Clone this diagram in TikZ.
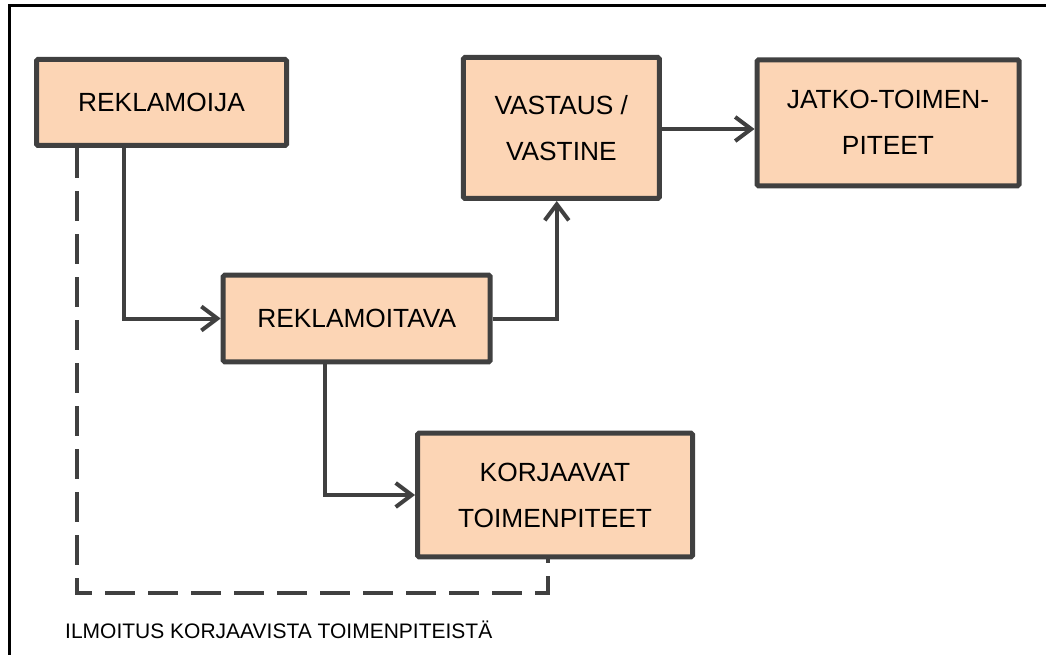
\documentclass[tikz,border=0pt]{standalone}
\usepackage{fontspec}
\setmainfont{Liberation Sans}
\usetikzlibrary{arrows.meta}
\definecolor{boxfill}{HTML}{FCD5B5}
\definecolor{ink}{HTML}{404040}
\tikzset{
  procbox/.style={draw=ink, fill=boxfill, line width=5pt, rounded corners=1.5pt,
    align=center, inner sep=0pt, font=\fontsize{26.3}{46}\selectfont},
  flow/.style={draw=ink, line width=4pt,
    -{Straight Barb[length=16pt,width=24pt,line width=4pt]}},
  notice/.style={draw=ink, line width=4pt, dash pattern=on 30pt off 13pt},
  frame/.style={draw=black, line width=2.5pt}
}
\begin{document}
\begin{tikzpicture}[x=1pt,y=-1pt]
\useasboundingbox (0,0) rectangle (1046,655);
\draw[frame] (9.5,655) -- (9.5,5.5) -- (1046,5.5);

\node[procbox, minimum width=250pt, minimum height=86pt] (reklamoija) at (161.5,102.5) {REKLAMOIJA};
\node[procbox, minimum width=196pt, minimum height=141pt] (vastaus) at (561.3,128) {VASTAUS /\\VASTINE};
\node[procbox, minimum width=262pt, minimum height=126pt] (jatko) at (888,122.8) {JATKO-TOIMEN-\\PITEET};
\node[procbox, minimum width=267pt, minimum height=86.6pt] (reklamoitava) at (356.7,318.5) {REKLAMOITAVA};
\node[procbox, minimum width=275pt, minimum height=123.6pt] (korjaavat) at (555,495) {KORJAAVAT\\TOIMENPITEET};

\coordinate (dturn) at (548,593);

\draw[flow] ([xshift=-37.5pt]reklamoija.south) |- (reklamoitava.west);
\draw[flow] (reklamoitava.east) -| ([xshift=-4.5pt]vastaus.south);
\draw[flow] ([yshift=-1pt]vastaus.east) -- ([yshift=-1pt]vastaus.east -| jatko.west);
\draw[flow] ([xshift=-31.7pt]reklamoitava.south) |- (korjaavat.west);
\draw[notice] ([xshift=-84.2pt]reklamoija.south) |- (dturn) -- (dturn |- korjaavat.south);

\node[anchor=base west, font=\fontsize{21}{25}\selectfont, inner sep=0pt] (ilmoitus) at (65,638) {ILMOITUS KORJAAVISTA TOIMENPITEISTÄ};
\end{tikzpicture}
\end{document}
